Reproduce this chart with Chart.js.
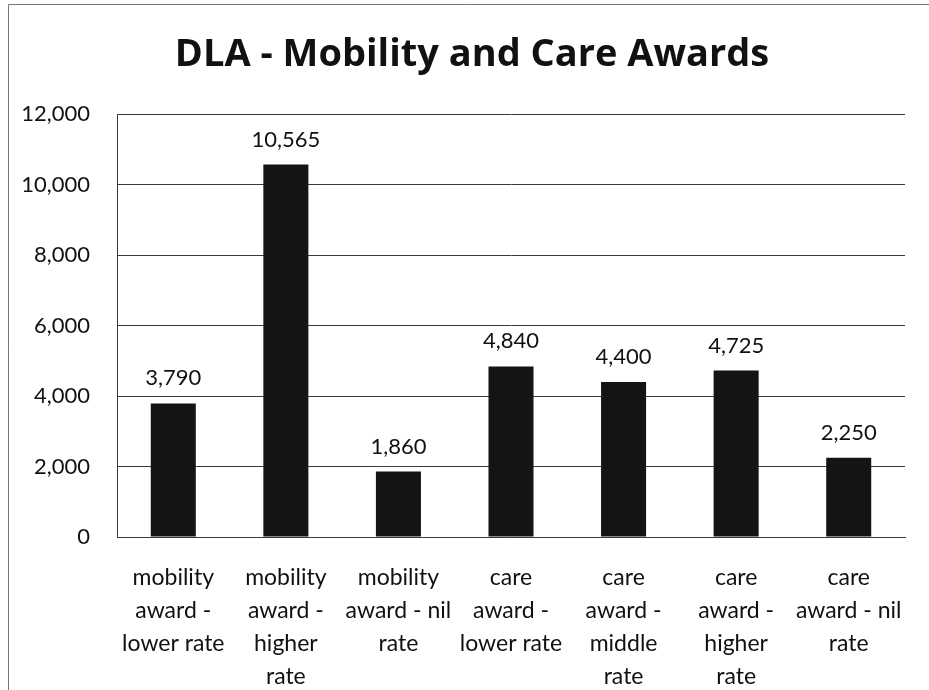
<!DOCTYPE html>
<html>
<head>
    <title>DLA - Mobility and Care Awards</title>
    <script src="https://cdn.jsdelivr.net/npm/chart.js"></script>
</head>
<body style="margin: 0; background-color: #ffffff;">
    <div style="width: 929px; height: 690px; position: relative;">
        <canvas id="myChart"></canvas>
    </div>

    <script>
        // Award categories (split into lines as shown under each bar)
        var categories = [
            ['mobility', 'award -', 'lower rate'],
            ['mobility', 'award -', 'higher', 'rate'],
            ['mobility', 'award - nil', 'rate'],
            ['care', 'award -', 'lower rate'],
            ['care', 'award -', 'middle', 'rate'],
            ['care', 'award -', 'higher', 'rate'],
            ['care', 'award - nil', 'rate']
        ];
        var awards = [3790, 10565, 1860, 4840, 4400, 4725, 2250];
        var yTicks = [0, 2000, 4000, 6000, 8000, 10000, 12000];
        var chartTitle = 'DLA - Mobility and Care Awards';

        var fontFamily = "Lato, 'Open Sans', sans-serif";

        // Writes the value above each bar
        var valueLabels = {
            id: 'valueLabels',
            afterDatasetsDraw: function (chart) {
                var c = chart.ctx;
                var meta = chart.getDatasetMeta(0);
                c.save();
                c.font = '22px ' + fontFamily;
                c.fillStyle = '#111111';
                c.textAlign = 'center';
                c.textBaseline = 'middle';
                meta.data.forEach(function (bar, i) {
                    c.fillText(awards[i].toLocaleString('en-GB'), bar.x, bar.y - 25);
                });
                c.restore();
            }
        };

        // Frame round the chart plus the heading, which sits a bit right of the plot centre
        var frame = {
            id: 'frame',
            beforeDraw: function (chart) {
                var c = chart.ctx;
                c.save();
                c.strokeStyle = '#777777';
                c.lineWidth = 1;
                c.beginPath();
                c.moveTo(8.5, 690);
                c.lineTo(8.5, 4.5);
                c.lineTo(929, 4.5);
                c.stroke();

                c.font = "bold 38px 'Open Sans', Lato, sans-serif";
                c.fillStyle = '#111111';
                c.textAlign = 'center';
                c.textBaseline = 'alphabetic';
                c.fillText(chartTitle, 472, 66);
                c.restore();
            }
        };

        var ctx = document.getElementById('myChart').getContext('2d');
        var myChart = new Chart(ctx, {
            type: 'bar',
            data: {
                labels: categories,
                datasets: [{
                    label: 'Awards',
                    data: awards,
                    backgroundColor: '#141414',
                    borderWidth: 0,
                    categoryPercentage: 1,
                    barPercentage: 0.4
                }]
            },
            options: {
                responsive: true,
                maintainAspectRatio: false,
                animation: false,
                layout: {
                    padding: { left: 10, right: 24, top: 114, bottom: 0 }
                },
                scales: {
                    y: {
                        min: 0,
                        max: 12000,
                        afterBuildTicks: function (scale) {
                            scale.ticks = yTicks.map(function (v) { return { value: v }; });
                        },
                        afterFit: function (scale) {
                            scale.width = 107;
                        },
                        grid: {
                            color: '#3a3a3a',
                            drawTicks: false
                        },
                        border: {
                            display: true,
                            color: '#3a3a3a'
                        },
                        ticks: {
                            color: '#111111',
                            padding: 27,
                            font: { family: fontFamily, size: 22 },
                            callback: function (v) { return v.toLocaleString('en-GB'); }
                        }
                    },
                    x: {
                        afterFit: function (scale) {
                            scale.height = 153;
                        },
                        grid: {
                            display: false
                        },
                        border: {
                            display: true,
                            color: '#3a3a3a'
                        },
                        ticks: {
                            color: '#111111',
                            padding: 16,
                            maxRotation: 0,
                            autoSkip: false,
                            font: { family: fontFamily, size: 23, lineHeight: 1.43 }
                        }
                    }
                },
                plugins: {
                    legend: { display: false },
                    tooltip: { enabled: false },
                    title: { display: false }
                }
            },
            plugins: [frame, valueLabels]
        });
    </script>
</body>
</html>
